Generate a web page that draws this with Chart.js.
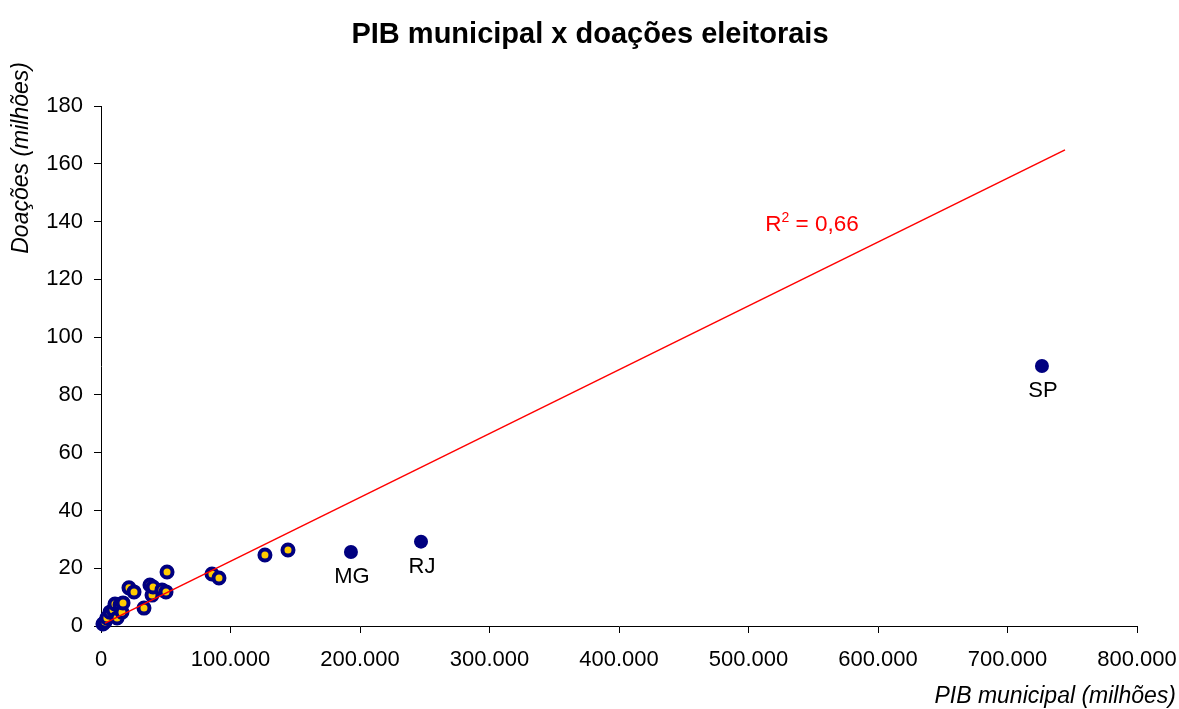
<!DOCTYPE html>
<html>
<head>
<meta charset="utf-8">
<script src="https://cdn.jsdelivr.net/npm/chart.js@4.4.1/dist/chart.umd.min.js"></script>
<style>
  html, body { margin: 0; padding: 0; background: #ffffff; }
  #wrap { width: 1179px; height: 709px; }
</style>
</head>
<body>
<div id="wrap"><canvas id="c" width="1179" height="709"></canvas></div>
<script>
// ---- data (values in millions) ----
const chartTitle = 'PIB municipal x doações eleitorais';
const xAxisTitle = 'PIB municipal (milhões)';
const yAxisTitle = 'Doações (milhões)';

// smaller states (ringed markers)
const pibSmall = [1500, 3100, 4600, 6900, 9300, 10800, 12400, 14700, 16200, 17000,
                  21600, 25500, 33200, 37800, 39400, 40200, 47100, 50200, 51000,
                  85700, 91100, 126600, 144400];
const doacoesSmall = [0.7, 1.4, 2.8, 4.8, 5.5, 7.6, 2.8, 7.3, 4.8, 8.0,
                      13.2, 11.8, 6.2, 14.2, 10.7, 13.5, 12.5, 11.8, 18.7,
                      18.0, 16.6, 24.6, 26.3];

// labelled large states
const bigStates = ['MG', 'RJ', 'SP'];
const pibBig = [193000, 247100, 726600];
const doacoesBig = [25.6, 29.2, 90.0];

// linear trend line endpoints, as drawn in the reference
const trendX = [3100, 744400];
const trendY = [1.0, 164.8];
const r2Text = '0,66';
const r2Pos = [513000, 136.8];

// axes
const xMin = 0, xMax = 800000, xStep = 100000;
const yMin = 0, yMax = 180, yStep = 20;

// ---- helpers ----
function fmtThousands(v) {
  const s = Math.round(v).toString();
  return s.replace(/\B(?=(\d{3})+(?!\d))/g, '.');
}
const FONT = '"Liberation Sans", Arial, Helvetica, sans-serif';

const smallPts = pibSmall.map((x, i) => ({ x: x, y: doacoesSmall[i] }));
const bigPts = pibBig.map((x, i) => ({ x: x, y: doacoesBig[i] }));
const trendPts = trendX.map((x, i) => ({ x: x, y: trendY[i] }));

const annotPlugin = {
  id: 'annot',
  afterDraw(chart) {
    const ctx = chart.ctx;
    const xs = chart.scales.x, ys = chart.scales.y;
    ctx.save();
    // chart title
    ctx.fillStyle = '#000000';
    ctx.font = 'bold 29px ' + FONT;
    ctx.textAlign = 'center';
    ctx.textBaseline = 'alphabetic';
    ctx.fillText(chartTitle, 590, 43);
    // point labels
    ctx.font = '22px ' + FONT;
    ctx.textAlign = 'center';
    ctx.textBaseline = 'middle';
    bigStates.forEach((name, i) => {
      const px = xs.getPixelForValue(pibBig[i]);
      const py = ys.getPixelForValue(doacoesBig[i]);
      ctx.fillText(name, px + 1, py + 25);
    });
    // R² label
    const rx = xs.getPixelForValue(r2Pos[0]);
    const ry = ys.getPixelForValue(r2Pos[1]);
    ctx.fillStyle = '#ff0000';
    ctx.textAlign = 'left';
    ctx.textBaseline = 'alphabetic';
    ctx.font = '22.5px ' + FONT;
    ctx.fillText('R', rx, ry);
    let w = ctx.measureText('R').width;
    ctx.font = '14px ' + FONT;
    ctx.fillText('2', rx + w, ry - 9);
    w += ctx.measureText('2').width;
    ctx.font = '22.5px ' + FONT;
    ctx.fillText(' = ' + r2Text, rx + w, ry);
    // axis titles
    ctx.fillStyle = '#000000';
    ctx.font = 'italic 23px ' + FONT;
    ctx.textAlign = 'right';
    ctx.textBaseline = 'middle';
    ctx.fillText(xAxisTitle, 1176, 697);
    ctx.translate(22, 62);
    ctx.rotate(-Math.PI / 2);
    ctx.textAlign = 'right';
    ctx.fillText(yAxisTitle, 0, 0);
    ctx.restore();
  }
};

new Chart(document.getElementById('c'), {
  type: 'scatter',
  data: {
    datasets: [
      {
        label: 'Tendência',
        data: trendPts,
        showLine: true,
        borderColor: '#ff0000',
        borderWidth: 1.5,
        pointRadius: 0,
        fill: false,
        order: 0,
        clip: false
      },
      {
        label: 'Estados',
        data: smallPts,
        backgroundColor: '#ffcc00',
        borderColor: '#000080',
        borderWidth: 4,
        pointRadius: 5.5,
        pointHoverRadius: 5.5,
        order: 1,
        clip: false
      },
      {
        label: 'Grandes',
        data: bigPts,
        backgroundColor: '#000080',
        borderColor: '#000080',
        borderWidth: 0,
        pointRadius: 7,
        pointHoverRadius: 7,
        order: 2,
        clip: false
      }
    ]
  },
  options: {
    responsive: false,
    animation: false,
    devicePixelRatio: 1,
    layout: { padding: { left: 0, right: 42, top: 106, bottom: 0 } },
    plugins: {
      legend: { display: false },
      tooltip: { enabled: false },
      title: { display: false }
    },
    scales: {
      x: {
        type: 'linear',
        min: xMin, max: xMax,
        afterFit(scale) { scale.height = 83; scale.paddingLeft = 0; scale.paddingRight = 0; },
        ticks: {
          stepSize: xStep,
          color: '#000000',
          font: { family: FONT, size: 22 },
          padding: 14,
          maxRotation: 0,
          callback: (v) => fmtThousands(v)
        },
        grid: { drawOnChartArea: false, drawTicks: true, tickLength: 7, color: '#000000', lineWidth: 1 },
        border: { display: true, color: '#000000', width: 1 }
      },
      y: {
        type: 'linear',
        min: yMin, max: yMax,
        afterFit(scale) { scale.width = 101; scale.paddingTop = 0; scale.paddingBottom = 0; },
        ticks: {
          stepSize: yStep,
          color: '#000000',
          font: { family: FONT, size: 22 },
          padding: 11
        },
        grid: { drawOnChartArea: false, drawTicks: true, tickLength: 7, color: '#000000', lineWidth: 1 },
        border: { display: true, color: '#000000', width: 1 }
      }
    }
  },
  plugins: [annotPlugin]
});
</script>
</body>
</html>
